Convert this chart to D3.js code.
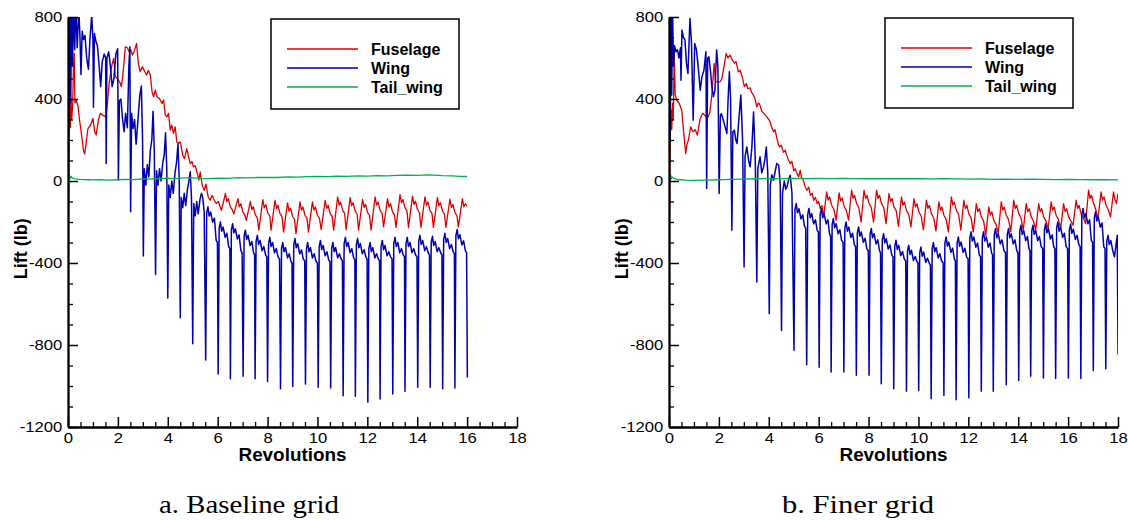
<!DOCTYPE html>
<html>
<head>
<meta charset="utf-8">
<script src="https://cdn.jsdelivr.net/npm/d3@7"></script>
<style>
body { margin: 0; background: #fff; }
svg { display: block; }
.sans { font-family: 'Liberation Sans', Arial, Helvetica, sans-serif; }
.serif { font-family: 'Liberation Serif', 'Times New Roman', serif; }
</style>
</head>
<body>
<svg id="chart" width="1128" height="520"></svg>
<script>
// lift time histories, [revolution, lift lb]
const fusA = [[0,120],[0.02,-190],[0.04,100],[0.06,380],[0.09,260],[0.12,400],[0.15,300],[0.19,380],[0.22,560],[0.25,623],[0.28,380],[0.33,394],[0.40,365],[0.46,300],[0.52,248],[0.62,150],[0.67,131],[0.74,199],[0.80,256],[0.90,272],[1.00,305],[1.07,240],[1.13,224],[1.22,300],[1.30,330],[1.40,320],[1.52,313],[1.58,380],[1.65,476],[1.75,560],[1.83,598],[1.90,508],[1.98,500],[2.07,484],[2.14,460],[2.20,520],[2.30,655],[2.38,650],[2.45,630],[2.52,640],[2.58,614],[2.65,630],[2.75,671],[2.82,574],[2.89,533],[2.98,557],[3.05,541],[3.15,517],[3.22,540],[3.30,517],[3.37,435],[3.43,411],[3.50,443],[3.57,410],[3.66,403],[3.77,378],[3.83,395],[3.90,321],[3.97,313],[4.03,330],[4.10,248],[4.16,272],[4.23,232],[4.30,264],[4.36,191],[4.43,183],[4.50,191],[4.60,126],[4.67,109],[4.76,158],[4.83,120],[4.90,85],[4.97,95],[5.03,69],[5.10,75],[5.17,44],[5.25,4],[5.30,44],[5.38,-21],[5.46,-45],[5.53,-15],[5.62,-78],[5.70,-94],[5.78,-70],[5.85,-90],[5.94,-110],[6.03,-100],[6.10,-127],
  [6.15,-143],[6.31,-61],[6.37,-101],[6.43,-86],[6.51,-126],[6.59,-141],
  [6.65,-160],[6.81,-86],[6.87,-126],[6.93,-111],[7.01,-151],[7.09,-166],
  [7.15,-192],[7.31,-100],[7.37,-140],[7.43,-125],[7.51,-165],[7.59,-180],
  [7.65,-240],[7.81,-91],[7.87,-131],[7.93,-116],[8.01,-156],[8.09,-171],
  [8.14,-240],[8.30,-94],[8.36,-134],[8.42,-119],[8.50,-159],[8.58,-174],
  [8.64,-249],[8.80,-107],[8.86,-147],[8.92,-132],[9.00,-172],[9.08,-187],
  [9.14,-257],[9.30,-102],[9.36,-142],[9.42,-127],[9.50,-167],[9.58,-182],
  [9.64,-249],[9.80,-102],[9.86,-142],[9.92,-127],[10.00,-167],[10.08,-182],
  [10.15,-237],[10.31,-94],[10.37,-134],[10.43,-119],[10.51,-159],[10.59,-174],
  [10.65,-240],[10.81,-78],[10.87,-118],[10.93,-103],[11.01,-143],[11.09,-158],
  [11.15,-237],[11.31,-81],[11.37,-121],[11.43,-106],[11.51,-146],[11.59,-161],
  [11.65,-240],[11.81,-89],[11.87,-129],[11.93,-114],[12.01,-154],[12.09,-169],
  [12.15,-240],[12.31,-78],[12.37,-118],[12.43,-103],[12.51,-143],[12.59,-158],
  [12.65,-224],[12.81,-86],[12.87,-126],[12.93,-111],[13.01,-151],[13.09,-166],
  [13.15,-226],[13.31,-66],[13.37,-106],[13.43,-91],[13.51,-131],[13.59,-146],
  [13.65,-228],[13.81,-74],[13.87,-114],[13.93,-99],[14.01,-139],[14.09,-154],
  [14.15,-226],[14.31,-78],[14.37,-118],[14.43,-103],[14.51,-143],[14.59,-158],
  [14.65,-226],[14.81,-81],[14.87,-121],[14.93,-106],[15.01,-146],[15.09,-161],
  [15.15,-226],[15.31,-89],[15.37,-129],[15.43,-114],[15.51,-154],[15.59,-169],
  [15.65,-224],[15.81,-86],[15.87,-126],[15.93,-111],[16.00,-123]];

const wingA = [[0,300],[0.02,850],[0.05,260],[0.08,850],[0.11,380],[0.14,850],[0.18,560],[0.22,850],[0.27,640],[0.31,850],[0.37,650],[0.43,850],[0.48,700],[0.52,520],[0.57,730],[0.62,690],[0.68,710],[0.75,600],[0.82,545],[0.88,690],[0.95,810],[1.00,690],[1.02,360],[1.06,720],[1.12,680],[1.18,660],[1.25,560],[1.31,460],[1.37,580],[1.45,620],[1.51,600],[1.53,85],[1.56,600],[1.63,630],[1.70,560],[1.77,460],[1.84,500],[1.92,620],[1.99,645],[2.02,5],[2.06,390],[2.12,400],[2.19,300],[2.25,240],[2.31,330],[2.38,260],[2.44,560],[2.48,655],[2.51,-150],[2.55,330],[2.61,256],[2.67,300],[2.73,180],[2.80,290],[2.88,420],[2.94,463],[2.99,200],[3.02,-366],
  [3.06,60],[3.12,-20],[3.18,80],[3.24,20],[3.30,150],[3.36,200],[3.41,340],[3.46,150],[3.51,-456],
  [3.55,50],[3.61,-20],[3.67,60],[3.73,0],[3.80,90],[3.86,130],[3.91,235],[3.96,60],[4.00,-571],
  [4.04,-20],[4.10,-80],[4.16,0],[4.22,-60],[4.29,40],[4.35,90],[4.41,180],[4.46,0],[4.50,-667],
  [4.54,-80],[4.60,-130],[4.66,-60],[4.72,-120],[4.79,-40],[4.85,0],[4.90,45],[4.95,-80],[5.00,-794],
  [5.04,-110],[5.10,-170],[5.16,-100],[5.22,-160],[5.29,-90],[5.35,-60],[5.40,-80],[5.46,-150],
  [5.52,-873],[5.56,-156],[5.61,-126],[5.66,-171],[5.72,-151],[5.80,-201],[5.87,-181],[5.94,-290],[5.99,-300],
  [6.02,-941],[6.06,-230],[6.11,-200],[6.16,-245],[6.22,-225],[6.30,-275],[6.37,-255],[6.44,-320],[6.49,-330],
  [6.51,-965],[6.55,-238],[6.60,-208],[6.65,-253],[6.71,-233],[6.79,-283],[6.86,-263],[6.93,-340],[6.98,-350],
  [7.02,-952],[7.06,-270],[7.11,-240],[7.16,-285],[7.22,-265],[7.30,-315],[7.37,-295],[7.44,-350],[7.48,-360],
  [7.50,-965],[7.54,-295],[7.59,-265],[7.64,-310],[7.70,-290],[7.78,-340],[7.85,-320],[7.92,-360],[7.97,-370],
  [8.00,-978],[8.04,-305],[8.09,-275],[8.14,-320],[8.20,-300],[8.28,-350],[8.35,-330],[8.42,-370],[8.48,-380],
  [8.52,-1014],[8.56,-330],[8.61,-300],[8.66,-345],[8.72,-325],[8.80,-375],[8.87,-355],[8.93,-390],[8.98,-400],
  [9.01,-1003],[9.05,-311],[9.10,-281],[9.15,-326],[9.21,-306],[9.29,-356],[9.36,-336],[9.43,-380],[9.49,-390],
  [9.52,-990],[9.56,-330],[9.61,-300],[9.66,-345],[9.72,-325],[9.80,-375],[9.87,-355],[9.94,-390],[10.00,-400],
  [10.03,-1006],[10.07,-320],[10.12,-290],[10.17,-335],[10.23,-315],[10.31,-365],[10.38,-345],[10.45,-385],[10.50,-395],
  [10.53,-1010],[10.57,-330],[10.62,-300],[10.67,-345],[10.73,-325],[10.81,-375],[10.88,-355],[10.95,-380],[11.00,-390],
  [11.03,-1047],[11.07,-305],[11.12,-275],[11.17,-320],[11.23,-300],[11.31,-350],[11.38,-330],[11.45,-375],[11.50,-385],
  [11.52,-1050],[11.56,-310],[11.61,-280],[11.66,-325],[11.72,-305],[11.80,-355],[11.87,-335],[11.94,-370],[11.99,-380],
  [12.02,-1079],[12.06,-330],[12.11,-300],[12.16,-345],[12.22,-325],[12.30,-375],[12.37,-355],[12.44,-380],[12.49,-390],
  [12.51,-1063],[12.55,-320],[12.60,-290],[12.65,-335],[12.71,-315],[12.79,-365],[12.86,-345],[12.93,-370],[12.99,-380],
  [13.02,-1039],[13.06,-305],[13.11,-275],[13.16,-320],[13.22,-300],[13.30,-350],[13.37,-330],[13.44,-360],[13.49,-370],
  [13.51,-1027],[13.55,-305],[13.60,-275],[13.65,-320],[13.71,-300],[13.79,-350],[13.86,-330],[13.93,-360],[13.99,-370],
  [14.02,-1006],[14.06,-295],[14.11,-265],[14.16,-310],[14.22,-290],[14.30,-340],[14.37,-320],[14.44,-350],[14.49,-360],
  [14.52,-1006],[14.56,-300],[14.61,-270],[14.66,-315],[14.72,-295],[14.80,-345],[14.87,-325],[14.94,-350],[14.99,-360],
  [15.02,-1014],[15.06,-285],[15.11,-255],[15.16,-300],[15.22,-280],[15.30,-330],[15.37,-310],[15.44,-345],[15.49,-355],
  [15.51,-1010],[15.55,-267],[15.60,-237],[15.65,-282],[15.71,-262],[15.79,-312],[15.86,-292],[15.93,-340],[15.98,-350],
  [16.01,-958]];

const tailA = [[0,0],[0.03,10],[0.06,30],[0.09,12],[0.13,22],[0.18,14],[0.25,12],[0.4,9],[0.6,7],[0.8,6],[1.0,5],[1.3,6],[1.6,4],[2.0,6],[2.3,8],[2.6,7],[3.0,10],[3.3,9],[3.6,12],[4.0,14],[4.3,12],[4.6,15],[5.0,15],[5.3,13],[5.6,12],[6.0,14],[6.4,13],[6.8,16],[7.2,15],[7.6,17],[8.0,18],[8.4,17],[8.8,20],[9.2,19],[9.6,21],[10.0,22],[10.4,21],[10.8,24],[11.2,23],[11.6,25],[12.0,24],[12.4,26],[12.8,25],[13.2,27],[13.6,28],[14.0,27],[14.4,30],[14.7,29],[15.0,26],[15.4,25],[15.7,23],[16.0,22]];

const fusB = [[0,117],[0.01,-200],[0.03,-60],[0.05,250],[0.08,346],[0.11,250],[0.14,380],[0.17,300],[0.21,623],[0.25,420],[0.31,394],[0.41,378],[0.51,346],[0.58,248],[0.67,134],[0.72,180],[0.78,200],[0.87,264],[0.96,240],[1.05,250],[1.14,224],[1.24,300],[1.35,330],[1.45,320],[1.54,305],[1.63,330],[1.71,411],[1.81,574],[1.87,484],[1.96,484],[2.05,484],[2.12,500],[2.18,541],[2.29,622],[2.36,600],[2.45,614],[2.54,590],[2.62,575],[2.69,582],[2.78,533],[2.85,540],[2.93,510],[3.02,460],[3.10,475],[3.16,450],[3.25,455],[3.32,430],[3.38,420],[3.45,400],[3.52,362],[3.58,380],[3.63,375],[3.72,340],[3.80,330],[3.92,313],[4.00,300],[4.05,290],[4.12,260],[4.19,240],[4.25,250],[4.32,210],[4.38,180],[4.43,166],[4.50,175],[4.59,140],[4.66,150],[4.72,125],[4.80,100],[4.86,85],[4.93,95],[5.00,50],[5.06,60],[5.13,36],[5.20,20],[5.26,53],[5.31,15],[5.36,10],[5.42,-10],[5.46,-29],[5.53,-45],[5.60,-30],[5.67,-70],[5.74,-60],[5.80,-94],[5.87,-80],[5.94,-110],[6.00,-100],[6.06,-134],[6.13,-120],
  [6.20,-175],[6.32,-53],[6.38,-93],[6.44,-78],[6.52,-118],[6.61,-138],
  [6.70,-191],[6.82,-58],[6.88,-98],[6.94,-83],[7.02,-123],[7.11,-143],
  [7.20,-191],[7.32,-45],[7.38,-85],[7.44,-70],[7.52,-110],[7.61,-130],
  [7.70,-200],[7.82,-45],[7.88,-85],[7.94,-70],[8.02,-110],[8.11,-130],
  [8.20,-200],[8.32,-45],[8.38,-85],[8.44,-70],[8.52,-110],[8.61,-130],
  [8.70,-208],[8.82,-61],[8.88,-101],[8.94,-86],[9.02,-126],[9.11,-146],
  [9.20,-221],[9.32,-78],[9.38,-118],[9.44,-103],[9.52,-143],[9.61,-163],
  [9.70,-224],[9.82,-86],[9.88,-126],[9.94,-111],[10.02,-151],[10.11,-171],
  [10.20,-237],[10.32,-94],[10.38,-134],[10.44,-119],[10.52,-159],[10.61,-179],
  [10.70,-243],[10.82,-102],[10.88,-142],[10.94,-127],[11.02,-167],[11.11,-187],
  [11.20,-248],[11.32,-78],[11.38,-118],[11.44,-103],[11.52,-143],[11.61,-163],
  [11.70,-240],[11.82,-94],[11.88,-134],[11.94,-119],[12.02,-159],[12.11,-179],
  [12.20,-248],[12.32,-110],[12.38,-150],[12.44,-135],[12.52,-175],[12.61,-195],
  [12.70,-265],[12.82,-126],[12.88,-166],[12.94,-151],[13.02,-191],[13.11,-211],
  [13.20,-257],[13.32,-102],[13.38,-142],[13.44,-127],[13.52,-167],[13.61,-187],
  [13.70,-248],[13.82,-94],[13.88,-134],[13.94,-119],[14.02,-159],[14.11,-179],
  [14.20,-240],[14.32,-110],[14.38,-150],[14.44,-135],[14.52,-175],[14.61,-195],
  [14.70,-240],[14.82,-110],[14.88,-150],[14.94,-135],[15.02,-175],[15.11,-195],
  [15.20,-232],[15.32,-102],[15.38,-142],[15.44,-127],[15.52,-167],[15.61,-187],
  [15.70,-232],[15.82,-110],[15.88,-150],[15.94,-135],[16.02,-175],[16.11,-195],
  [16.20,-216],[16.32,-94],[16.38,-134],[16.44,-119],[16.52,-159],[16.61,-179],
  [16.70,-208],[16.82,-45],[16.88,-85],[16.94,-70],[17.02,-110],[17.11,-140],
  [17.20,-183],[17.32,-53],[17.38,-93],[17.44,-78],[17.52,-118],[17.61,-140],
  [17.70,-175],[17.82,-53],[17.88,-93],[17.94,-110],[18.00,-62]];

const wingB = [[0,300],[0.02,850],[0.05,200],[0.08,850],[0.11,420],[0.14,850],[0.18,560],[0.22,660],[0.28,630],[0.34,640],[0.40,600],[0.46,650],[0.48,492],[0.52,736],[0.58,700],[0.64,688],[0.70,574],[0.76,525],[0.84,793],[0.90,680],[0.97,297],[1.03,671],[1.10,640],[1.17,557],[1.25,443],[1.32,508],[1.40,540],[1.48,631],[1.51,-37],[1.55,600],[1.60,606],[1.66,540],[1.72,460],[1.78,411],[1.84,440],[1.91,639],[1.96,560],[2.01,-61],[2.06,320],[2.10,329],[2.17,300],[2.25,264],[2.32,232],[2.37,400],[2.42,533],[2.47,400],[2.52,-240],[2.56,240],[2.62,248],[2.68,200],[2.73,183],[2.80,300],[2.88,419],[2.95,200],[3.01,-419],[3.05,120],[3.12,166],[3.19,100],[3.25,69],[3.32,160],[3.39,337],[3.46,100],[3.52,-493],[3.56,60],[3.65,118],[3.72,40],[3.79,69],[3.85,110],[3.90,166],[3.96,40],[4.02,-647],[4.06,-20],[4.12,30],[4.19,4],[4.26,50],[4.32,85],[4.40,77],[4.46,-20],[4.51,-729],[4.55,-60],[4.62,0],[4.68,-40],[4.73,-29],[4.80,10],[4.86,28],[4.93,-60],
  [5.01,-826],[5.05,-140],[5.10,-110],[5.15,-155],[5.21,-135],[5.29,-185],[5.36,-165],[5.43,-220],[5.48,-230],
  [5.52,-896],[5.56,-164],[5.61,-134],[5.66,-179],[5.72,-159],[5.80,-209],[5.87,-189],[5.94,-240],[5.99,-250],
  [6.02,-908],[6.06,-164],[6.11,-134],[6.16,-179],[6.22,-159],[6.30,-209],[6.37,-189],[6.44,-260],[6.48,-270],
  [6.50,-932],[6.54,-213],[6.59,-183],[6.64,-228],[6.70,-208],[6.78,-258],[6.85,-238],[6.92,-290],[6.98,-300],
  [7.01,-932],[7.05,-230],[7.10,-200],[7.15,-245],[7.21,-225],[7.29,-275],[7.36,-255],[7.43,-310],[7.48,-320],
  [7.51,-948],[7.55,-254],[7.60,-224],[7.65,-269],[7.71,-249],[7.79,-299],[7.86,-279],[7.93,-330],[7.99,-340],
  [8.02,-948],[8.06,-262],[8.11,-232],[8.16,-277],[8.22,-257],[8.30,-307],[8.37,-287],[8.44,-340],[8.48,-350],
  [8.51,-989],[8.55,-287],[8.60,-257],[8.65,-302],[8.71,-282],[8.79,-332],[8.86,-312],[8.93,-360],[8.98,-370],
  [9.01,-1013],[9.05,-319],[9.10,-289],[9.15,-334],[9.21,-314],[9.29,-364],[9.36,-344],[9.43,-380],[9.49,-390],
  [9.52,-1025],[9.56,-343],[9.61,-313],[9.66,-358],[9.72,-338],[9.80,-388],[9.87,-368],[9.93,-390],[9.98,-400],
  [10.01,-1022],[10.05,-352],[10.10,-322],[10.15,-367],[10.21,-347],[10.29,-397],[10.36,-377],[10.43,-400],[10.48,-410],
  [10.51,-1062],[10.55,-330],[10.60,-300],[10.65,-345],[10.71,-325],[10.79,-375],[10.86,-355],[10.93,-390],[10.99,-400],
  [11.02,-1046],[11.06,-303],[11.11,-273],[11.16,-318],[11.22,-298],[11.30,-348],[11.37,-328],[11.44,-380],[11.48,-390],
  [11.51,-1067],[11.55,-303],[11.60,-273],[11.65,-318],[11.71,-298],[11.79,-348],[11.86,-328],[11.93,-370],[11.99,-380],
  [12.02,-1057],[12.06,-278],[12.11,-248],[12.16,-293],[12.22,-273],[12.30,-323],[12.37,-303],[12.44,-360],[12.49,-370],
  [12.52,-1025],[12.56,-278],[12.61,-248],[12.66,-293],[12.72,-273],[12.80,-323],[12.87,-303],[12.93,-350],[12.97,-360],
  [13.00,-1025],[13.04,-262],[13.09,-232],[13.14,-277],[13.20,-257],[13.28,-307],[13.35,-287],[13.43,-340],[13.49,-350],
  [13.52,-994],[13.56,-262],[13.61,-232],[13.66,-277],[13.72,-257],[13.80,-307],[13.87,-287],[13.94,-340],[13.99,-350],
  [14.02,-973],[14.06,-246],[14.11,-216],[14.16,-261],[14.22,-241],[14.30,-291],[14.37,-271],[14.43,-330],[14.47,-340],
  [14.50,-952],[14.54,-246],[14.59,-216],[14.64,-261],[14.70,-241],[14.78,-291],[14.85,-271],[14.92,-320],[14.98,-330],
  [15.01,-961],[15.05,-238],[15.10,-208],[15.15,-253],[15.21,-233],[15.29,-283],[15.36,-263],[15.42,-320],[15.47,-330],
  [15.50,-963],[15.54,-230],[15.59,-200],[15.64,-245],[15.70,-225],[15.78,-275],[15.85,-255],[15.92,-320],[15.98,-330],
  [16.01,-961],[16.05,-240],[16.10,-210],[16.15,-255],[16.21,-235],[16.29,-285],[16.36,-265],[16.43,-310],[16.48,-320],
  [16.51,-963],[16.55,-164],[16.60,-134],[16.65,-179],[16.71,-159],[16.79,-209],[16.86,-189],[16.93,-290],[16.98,-300],
  [17.01,-924],[17.05,-180],[17.10,-150],[17.15,-195],[17.21,-175],[17.29,-225],[17.36,-205],[17.43,-320],[17.48,-330],
  [17.51,-916],[17.55,-295],[17.60,-265],[17.65,-310],[17.71,-290],[17.79,-340],[17.86,-370],[17.93,-300],[17.97,-265],
  [18.00,-846]];

const tailB = [[0,0],[0.03,12],[0.06,32],[0.09,10],[0.12,20],[0.17,14],[0.25,10],[0.4,6],[0.7,4],[1.0,3],[1.5,4],[2.0,6],[2.5,8],[3.0,9],[3.5,11],[4.0,12],[4.5,12],[5.0,13],[5.5,12],[6.0,13],[6.5,12],[7.0,13],[7.5,12],[8.0,11],[8.5,12],[9.0,11],[9.5,12],[10.0,11],[10.5,10],[11.0,11],[11.5,10],[12.0,9],[12.5,10],[13.0,8],[13.5,9],[14.0,8],[14.5,9],[15.0,8],[15.5,7],[16.0,8],[16.5,7],[17.0,6],[17.5,7],[18.0,5]];

const seriesNames = ["Fuselage", "Wing", "Tail_wing"];
const seriesColors = ["#dd0000", "#0000b0", "#00b050"];
const seriesWidths = [1.3, 1.5, 1.3];
const xTickLabels = [0, 2, 4, 6, 8, 10, 12, 14, 16, 18];
const yTickLabels = [800, 400, 0, -400, -800, -1200];
const captions = ["a. Baseline grid", "b. Finer grid"];

const panels = [
    {x0: 68, series: [fusA, wingA, tailA], legendX: 271, legendY: 19, capX: 249, capW: 180},
    {x0: 669, series: [fusB, wingB, tailB], legendX: 885, legendY: 18, capX: 858, capW: 152}
];

const plotW = 449;
const plotTop = 17;
const plotBottom = 427;
const svg = d3.select('#chart');
const plainNum = d => String(d);

panels.forEach(function(p, i) {
    const x = d3.scaleLinear().domain([0, 18]).range([p.x0, p.x0 + plotW]);
    const y = d3.scaleLinear().domain([-1200, 800]).range([plotBottom, plotTop]);
    const g = svg.append('g');

    g.append('clipPath').attr('id', 'clip' + i)
        .append('rect')
        .attr('x', p.x0).attr('y', plotTop)
        .attr('width', plotW).attr('height', plotBottom - plotTop);

    const line = d3.line().x(d => x(d[0])).y(d => y(d[1]));
    const plot = g.append('g').attr('clip-path', 'url(#clip' + i + ')');
    p.series.forEach(function(data, k) {
        plot.append('path')
            .attr('d', line(data))
            .attr('fill', 'none')
            .attr('stroke', seriesColors[k])
            .attr('stroke-width', seriesWidths[k])
            .attr('stroke-linejoin', 'round');
    });

    // minor ticks
    const yMinor = d3.range(-1200, 801, 100).filter(v => v % 400 !== 0);
    const xMinor = d3.range(0, 18.01, 0.5).filter(v => v % 2 !== 0);
    g.append('g').attr('transform', 'translate(' + p.x0 + ',0)')
        .call(d3.axisLeft(y).tickValues(yMinor).tickSize(-5).tickSizeOuter(0).tickFormat(''))
        .call(a => a.select('.domain').remove())
        .selectAll('line').attr('stroke-width', 1.3);
    g.append('g').attr('transform', 'translate(0,' + plotBottom + ')')
        .call(d3.axisBottom(x).tickValues(xMinor).tickSize(-5).tickSizeOuter(0).tickFormat(''))
        .call(a => a.select('.domain').remove())
        .selectAll('line').attr('stroke-width', 1.3);

    // major ticks + labels
    const yAxis = g.append('g').attr('transform', 'translate(' + p.x0 + ',0)')
        .call(d3.axisLeft(y).tickValues(yTickLabels).tickSize(-10).tickSizeOuter(0).tickPadding(5).tickFormat(plainNum));
    const xAxis = g.append('g').attr('transform', 'translate(0,' + plotBottom + ')')
        .call(d3.axisBottom(x).tickValues(xTickLabels).tickSize(-10).tickSizeOuter(0).tickPadding(6).tickFormat(plainNum));
    [yAxis, xAxis].forEach(function(a) {
        a.attr('font-family', null).attr('font-size', null).attr('class', 'sans');
        a.select('.domain').attr('stroke-width', 2.3);
        a.selectAll('.tick line').attr('stroke-width', 1.5);
        a.selectAll('.tick text')
            .attr('font-size', 14.5)
            .attr('fill', '#000')
            .attr('transform', 'scale(1.15,1)');
    });

    // axis titles
    g.append('text')
        .attr('class', 'sans')
        .attr('x', (x(0) + x(18)) / 2).attr('y', 461)
        .attr('text-anchor', 'middle')
        .attr('font-weight', 'bold').attr('font-size', 17.5)
        .attr('textLength', 108).attr('lengthAdjust', 'spacingAndGlyphs')
        .text('Revolutions');
    g.append('text')
        .attr('class', 'sans')
        .attr('transform', 'translate(' + (p.x0 - 41) + ',' + y(-330) + ') rotate(-90)')
        .attr('text-anchor', 'middle')
        .attr('font-weight', 'bold').attr('font-size', 18)
        .text('Lift (lb)');

    // legend
    const lg = g.append('g').attr('transform', 'translate(' + p.legendX + ',' + p.legendY + ')');
    lg.append('rect')
        .attr('width', 188).attr('height', 90)
        .attr('fill', '#fff').attr('stroke', '#000').attr('stroke-width', 1.5);
    seriesNames.forEach(function(name, k) {
        const ly = 30 + k * 19;
        lg.append('line')
            .attr('x1', 16).attr('x2', 87).attr('y1', ly).attr('y2', ly)
            .attr('stroke', seriesColors[k]).attr('stroke-width', 1.3);
        lg.append('text')
            .attr('class', 'sans')
            .attr('x', 100).attr('y', ly + 5.5)
            .attr('font-weight', 'bold').attr('font-size', 16)
            .text(name);
    });

    // caption
    svg.append('text')
        .attr('class', 'serif')
        .attr('x', p.capX).attr('y', 513)
        .attr('text-anchor', 'middle')
        .attr('font-size', 26)
        .attr('textLength', p.capW).attr('lengthAdjust', 'spacingAndGlyphs')
        .text(captions[i]);
});
</script>
</body>
</html>
